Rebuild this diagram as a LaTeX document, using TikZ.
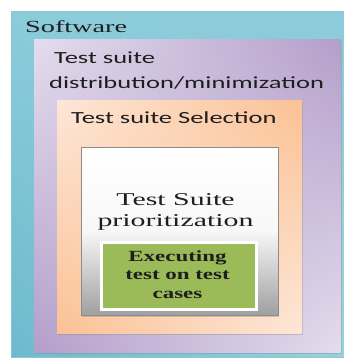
\documentclass[tikz,border=0pt]{standalone}
\usepackage{fontspec}
\usetikzlibrary{shadows,shadings}
% wide faces for the box captions
\newfontfamily\capsans[FakeStretch=1.56]{Carlito}
\newfontfamily\capserif[FakeStretch=1.66]{Liberation Serif}
\newfontfamily\capbold[FakeStretch=1.48]{Liberation Serif Bold}

\definecolor{tealA}{HTML}{8CCCDA}
\definecolor{tealB}{HTML}{6DBACD}
\definecolor{lilacA}{HTML}{E4DDED}
\definecolor{lilacB}{HTML}{B39ECA}
\definecolor{peachA}{HTML}{FDE7D8}
\definecolor{peachB}{HTML}{FBC194}
\definecolor{leaf}{HTML}{9BBB59}
\definecolor{ink}{HTML}{1E1E1E}

\tikzset{
  layer/.style={anchor=north west,inner sep=0pt,
    drop shadow={shadow xshift=1.2pt,shadow yshift=-1.5pt,opacity=.35}},
  lbl/.style={inner sep=0pt,text=ink}
}

\begin{document}
\begin{tikzpicture}[x=1pt,y=-1pt]
  \useasboundingbox (0,0) rectangle (344,358);

  % nested layers, outside in
  \node[layer,minimum width=333pt,minimum height=346pt,draw=tealB!80,
        upper left=tealA,upper right=tealA,lower left=tealB,lower right=tealA!90]
        (soft) at (11,11) {};
  \node[layer,minimum width=307pt,minimum height=313pt,
        upper left=lilacA,upper right=lilacB,lower left=lilacB,lower right=lilacA]
        (dist) at (34,39) {};
  \node[layer,minimum width=245pt,minimum height=233pt,
        upper left=peachA,upper right=peachB,lower left=peachB,lower right=peachA]
        (sel) at (57,100) {};
  \node[layer,minimum width=197pt,minimum height=168pt,draw=gray!90,
        top color=white,bottom color=gray!75,middle color=gray!6]
        (prio) at (81,147) {};
  \node[layer,minimum width=155pt,minimum height=67pt,fill=leaf,
        draw=white,line width=3.5pt] (exec) at (99.5,240.5) {};

  % captions (base = last line)
  \node[lbl,anchor=base west,font=\capserif\fontsize{17}{20}\selectfont]
    (softlbl) at (25,32.7) {Software};
  \node[lbl,anchor=base west,align=left,font=\capsans\fontsize{17}{25}\selectfont]
    (distlbl) at (49,89) {\hspace*{5pt}Test suite\\distribution/minimization};
  \node[lbl,anchor=base west,font=\capsans\fontsize{17}{25}\selectfont]
    (sellbl) at (71,123.3) {Test suite Selection};
  \node[lbl,anchor=base,align=center,font=\capserif\fontsize{18}{21.7}\selectfont]
    (priolbl) at (175.5,226.7) {Test Suite\\prioritization};
  \node[lbl,anchor=base,align=center,font=\capbold\fontsize{15.5}{18.5}\selectfont]
    (execlbl) at (177.5,298) {Executing\\test on test\\cases};
\end{tikzpicture}
\end{document}
